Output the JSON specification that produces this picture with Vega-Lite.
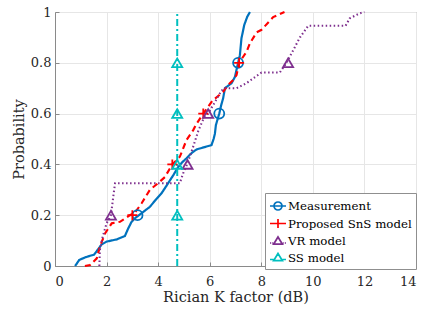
{
  "$schema": "https://vega.github.io/schema/vega-lite/v6.json",
  "width": 361,
  "height": 254,
  "autosize": {"type": "none"},
  "padding": {"left": 55, "top": 12, "right": 16, "bottom": 48},
  "background": "white",
  "config": {
    "view": {"stroke": "#8a8a8a", "strokeWidth": 1},
    "font": "DejaVu Serif",
    "axis": {
      "labelFont": "DejaVu Serif",
      "labelFontSize": 13,
      "labelColor": "#262626",
      "titleFont": "DejaVu Serif",
      "titleFontSize": 14.5,
      "titleFontWeight": "normal",
      "titleColor": "#262626",
      "domainColor": "#8a8a8a",
      "tickColor": "#8a8a8a",
      "gridColor": "#e6e6e6",
      "tickSize": -4,
      "grid": true
    },
    "legend": {"labelFont": "DejaVu Serif"}
  },
  "datasets": {
    "lines": [
      {"s": "Measurement", "i": 1, "x": 0.78, "y": 0},
      {"s": "Measurement", "i": 2, "x": 0.94, "y": 0.024},
      {"s": "Measurement", "i": 3, "x": 1.2, "y": 0.035},
      {"s": "Measurement", "i": 4, "x": 1.52, "y": 0.045},
      {"s": "Measurement", "i": 5, "x": 1.81, "y": 0.085},
      {"s": "Measurement", "i": 6, "x": 2.0, "y": 0.096},
      {"s": "Measurement", "i": 7, "x": 2.4, "y": 0.105},
      {"s": "Measurement", "i": 8, "x": 2.71, "y": 0.118},
      {"s": "Measurement", "i": 9, "x": 2.84, "y": 0.148},
      {"s": "Measurement", "i": 10, "x": 2.97, "y": 0.174},
      {"s": "Measurement", "i": 11, "x": 3.1, "y": 0.188},
      {"s": "Measurement", "i": 12, "x": 3.23, "y": 0.198},
      {"s": "Measurement", "i": 13, "x": 3.45, "y": 0.215},
      {"s": "Measurement", "i": 14, "x": 3.68, "y": 0.233},
      {"s": "Measurement", "i": 15, "x": 3.9, "y": 0.26},
      {"s": "Measurement", "i": 16, "x": 4.13, "y": 0.286},
      {"s": "Measurement", "i": 17, "x": 4.35, "y": 0.32},
      {"s": "Measurement", "i": 18, "x": 4.59, "y": 0.358},
      {"s": "Measurement", "i": 19, "x": 4.78, "y": 0.39},
      {"s": "Measurement", "i": 20, "x": 4.95, "y": 0.41},
      {"s": "Measurement", "i": 21, "x": 5.1, "y": 0.424},
      {"s": "Measurement", "i": 22, "x": 5.3, "y": 0.445},
      {"s": "Measurement", "i": 23, "x": 5.49, "y": 0.459},
      {"s": "Measurement", "i": 24, "x": 5.8, "y": 0.468},
      {"s": "Measurement", "i": 25, "x": 6.07, "y": 0.476},
      {"s": "Measurement", "i": 26, "x": 6.15, "y": 0.5},
      {"s": "Measurement", "i": 27, "x": 6.2, "y": 0.52},
      {"s": "Measurement", "i": 28, "x": 6.24, "y": 0.555},
      {"s": "Measurement", "i": 29, "x": 6.37, "y": 0.6},
      {"s": "Measurement", "i": 30, "x": 6.45, "y": 0.635},
      {"s": "Measurement", "i": 31, "x": 6.52, "y": 0.66},
      {"s": "Measurement", "i": 32, "x": 6.59, "y": 0.7},
      {"s": "Measurement", "i": 33, "x": 6.85, "y": 0.72},
      {"s": "Measurement", "i": 34, "x": 6.98, "y": 0.745},
      {"s": "Measurement", "i": 35, "x": 7.1, "y": 0.8},
      {"s": "Measurement", "i": 36, "x": 7.17, "y": 0.83},
      {"s": "Measurement", "i": 37, "x": 7.23, "y": 0.896},
      {"s": "Measurement", "i": 38, "x": 7.34, "y": 0.949},
      {"s": "Measurement", "i": 39, "x": 7.45, "y": 0.98},
      {"s": "Measurement", "i": 40, "x": 7.56, "y": 1.0},
      {"s": "Proposed SnS model", "i": 1, "x": 1.16, "y": 0},
      {"s": "Proposed SnS model", "i": 2, "x": 1.36, "y": 0.004},
      {"s": "Proposed SnS model", "i": 3, "x": 1.62, "y": 0.03},
      {"s": "Proposed SnS model", "i": 4, "x": 1.74, "y": 0.076},
      {"s": "Proposed SnS model", "i": 5, "x": 1.94, "y": 0.128},
      {"s": "Proposed SnS model", "i": 6, "x": 2.2, "y": 0.168},
      {"s": "Proposed SnS model", "i": 7, "x": 2.52, "y": 0.174},
      {"s": "Proposed SnS model", "i": 8, "x": 2.91, "y": 0.2},
      {"s": "Proposed SnS model", "i": 9, "x": 3.1, "y": 0.21},
      {"s": "Proposed SnS model", "i": 10, "x": 3.36, "y": 0.247},
      {"s": "Proposed SnS model", "i": 11, "x": 3.68, "y": 0.3},
      {"s": "Proposed SnS model", "i": 12, "x": 4.0, "y": 0.326},
      {"s": "Proposed SnS model", "i": 13, "x": 4.26, "y": 0.35},
      {"s": "Proposed SnS model", "i": 14, "x": 4.55, "y": 0.4},
      {"s": "Proposed SnS model", "i": 15, "x": 4.84, "y": 0.43},
      {"s": "Proposed SnS model", "i": 16, "x": 5.1, "y": 0.496},
      {"s": "Proposed SnS model", "i": 17, "x": 5.36, "y": 0.535},
      {"s": "Proposed SnS model", "i": 18, "x": 5.49, "y": 0.56},
      {"s": "Proposed SnS model", "i": 19, "x": 5.75, "y": 0.6},
      {"s": "Proposed SnS model", "i": 20, "x": 6.1, "y": 0.65},
      {"s": "Proposed SnS model", "i": 21, "x": 6.52, "y": 0.686},
      {"s": "Proposed SnS model", "i": 22, "x": 6.78, "y": 0.72},
      {"s": "Proposed SnS model", "i": 23, "x": 6.91, "y": 0.732},
      {"s": "Proposed SnS model", "i": 24, "x": 7.04, "y": 0.752},
      {"s": "Proposed SnS model", "i": 25, "x": 7.14, "y": 0.8},
      {"s": "Proposed SnS model", "i": 26, "x": 7.43, "y": 0.844},
      {"s": "Proposed SnS model", "i": 27, "x": 7.56, "y": 0.877},
      {"s": "Proposed SnS model", "i": 28, "x": 7.82, "y": 0.92},
      {"s": "Proposed SnS model", "i": 29, "x": 8.01, "y": 0.93},
      {"s": "Proposed SnS model", "i": 30, "x": 8.46, "y": 0.98},
      {"s": "Proposed SnS model", "i": 31, "x": 8.9, "y": 1.0},
      {"s": "VR model", "i": 1, "x": 1.72, "y": 0},
      {"s": "VR model", "i": 2, "x": 1.74, "y": 0.063},
      {"s": "VR model", "i": 3, "x": 1.85, "y": 0.115},
      {"s": "VR model", "i": 4, "x": 2.0, "y": 0.168},
      {"s": "VR model", "i": 5, "x": 2.17, "y": 0.2},
      {"s": "VR model", "i": 6, "x": 2.26, "y": 0.273},
      {"s": "VR model", "i": 7, "x": 2.33, "y": 0.326},
      {"s": "VR model", "i": 8, "x": 4.84, "y": 0.326},
      {"s": "VR model", "i": 9, "x": 4.97, "y": 0.365},
      {"s": "VR model", "i": 10, "x": 5.14, "y": 0.404},
      {"s": "VR model", "i": 11, "x": 5.36, "y": 0.47},
      {"s": "VR model", "i": 12, "x": 5.55, "y": 0.53},
      {"s": "VR model", "i": 13, "x": 5.75, "y": 0.578},
      {"s": "VR model", "i": 14, "x": 5.94, "y": 0.6},
      {"s": "VR model", "i": 15, "x": 6.2, "y": 0.645},
      {"s": "VR model", "i": 16, "x": 6.45, "y": 0.69},
      {"s": "VR model", "i": 17, "x": 6.59, "y": 0.7},
      {"s": "VR model", "i": 18, "x": 7.04, "y": 0.7},
      {"s": "VR model", "i": 19, "x": 7.43, "y": 0.72},
      {"s": "VR model", "i": 20, "x": 7.69, "y": 0.739},
      {"s": "VR model", "i": 21, "x": 8.01, "y": 0.762},
      {"s": "VR model", "i": 22, "x": 8.72, "y": 0.762},
      {"s": "VR model", "i": 23, "x": 8.98, "y": 0.8},
      {"s": "VR model", "i": 24, "x": 9.24, "y": 0.85},
      {"s": "VR model", "i": 25, "x": 9.5, "y": 0.9},
      {"s": "VR model", "i": 26, "x": 9.82, "y": 0.946},
      {"s": "VR model", "i": 27, "x": 11.27, "y": 0.946},
      {"s": "VR model", "i": 28, "x": 11.43, "y": 0.975},
      {"s": "VR model", "i": 29, "x": 11.82, "y": 0.995},
      {"s": "VR model", "i": 30, "x": 12.0, "y": 1.0},
      {"s": "SS model", "i": 1, "x": 4.74, "y": 0},
      {"s": "SS model", "i": 2, "x": 4.74, "y": 1.0}
    ],
    "markers": [
      {"s": "Measurement", "x": 3.2, "y": 0.2},
      {"s": "Measurement", "x": 6.37, "y": 0.6},
      {"s": "Measurement", "x": 7.1, "y": 0.8},
      {"s": "Proposed SnS model", "x": 3.0, "y": 0.2},
      {"s": "Proposed SnS model", "x": 4.55, "y": 0.4},
      {"s": "Proposed SnS model", "x": 5.75, "y": 0.6},
      {"s": "Proposed SnS model", "x": 7.14, "y": 0.8},
      {"s": "VR model", "x": 2.17, "y": 0.2},
      {"s": "VR model", "x": 5.14, "y": 0.4},
      {"s": "VR model", "x": 5.94, "y": 0.6},
      {"s": "VR model", "x": 9.04, "y": 0.8},
      {"s": "SS model", "x": 4.74, "y": 0.2},
      {"s": "SS model", "x": 4.74, "y": 0.4},
      {"s": "SS model", "x": 4.74, "y": 0.6},
      {"s": "SS model", "x": 4.74, "y": 0.8}
    ]
  },
  "layer": [
    {
      "data": {"name": "lines"},
      "mark": {"type": "line"},
      "encoding": {
        "x": {"field": "x", "type": "quantitative", "title": "Rician K factor (dB)",
              "scale": {"domain": [0, 14], "nice": false},
              "axis": {"values": [0, 2, 4, 6, 8, 10, 12, 14], "labelPadding": 13, "titlePadding": 2,
                       "labelFont": "DejaVu Serif", "titleFont": "DejaVu Serif"}},
        "y": {"field": "y", "type": "quantitative", "title": "Probability",
              "scale": {"domain": [0, 1], "nice": false},
              "axis": {"values": [0, 0.2, 0.4, 0.6, 0.8, 1], "format": "~g", "labelPadding": 8, "titlePadding": 4,
                       "labelFont": "DejaVu Serif", "titleFont": "DejaVu Serif"}},
        "color": {"field": "s", "type": "nominal", "legend": null,
                  "scale": {"domain": ["Measurement", "Proposed SnS model", "VR model", "SS model"],
                            "range": ["#0072BD", "#FF0000", "#7E2F8E", "#00BFBF"]}},
        "strokeDash": {"field": "s", "type": "nominal", "legend": null,
                       "scale": {"domain": ["Measurement", "Proposed SnS model", "VR model", "SS model"],
                                 "range": [[1, 0], [6, 4], [1.5, 2.5], [7, 3, 2, 3]]}},
        "strokeWidth": {"field": "s", "type": "nominal", "legend": null,
                        "scale": {"domain": ["Measurement", "Proposed SnS model", "VR model", "SS model"],
                                  "range": [2.2, 2, 1.8, 1.6]}},
        "order": {"field": "i", "type": "quantitative"}
      }
    },
    {
      "data": {"name": "markers"},
      "mark": {"type": "point", "filled": false, "size": 100, "strokeWidth": 1.8, "opacity": 1},
      "encoding": {
        "x": {"field": "x", "type": "quantitative", "title": "Rician K factor (dB)"},
        "y": {"field": "y", "type": "quantitative", "title": "Probability"},
        "color": {"field": "s", "type": "nominal", "legend": null},
        "shape": {"field": "s", "type": "nominal", "legend": null,
                  "scale": {"domain": ["Measurement", "Proposed SnS model", "VR model", "SS model"],
                            "range": ["circle", "M-1,0L1,0M0,-1L0,1", "triangle-up", "triangle-up"]}}
      }
    },
    {
      "data": {"name": "markers"},
      "mark": {"type": "point", "filled": false, "opacity": 0},
      "encoding": {
        "x": {"field": "x", "type": "quantitative", "title": "Rician K factor (dB)"},
        "y": {"field": "y", "type": "quantitative", "title": "Probability"},
        "color": {"field": "s", "type": "nominal",
                  "legend": {"orient": "none", "legendX": 210, "legendY": 181, "title": null,
                             "padding": 4, "strokeColor": "#8f8f8f", "fillColor": "white",
                             "labelFont": "DejaVu Serif", "labelFontSize": 11.8, "labelColor": "#000000",
                             "symbolSize": 256, "symbolStrokeWidth": 1.7, "symbolOpacity": 1,
                             "rowPadding": 0.5, "labelOffset": 1,
                             "encode": {"symbols": {"update": {"opacity": {"value": 1}}}}}},
        "shape": {"field": "s", "type": "nominal",
                  "legend": {"orient": "none", "legendX": 210, "legendY": 181, "title": null,
                             "padding": 4, "strokeColor": "#8f8f8f", "fillColor": "white",
                             "labelFont": "DejaVu Serif", "labelFontSize": 11.8, "labelColor": "#000000",
                             "symbolSize": 256, "symbolStrokeWidth": 1.7, "symbolOpacity": 1,
                             "rowPadding": 0.5, "labelOffset": 1,
                             "encode": {"symbols": {"update": {"opacity": {"value": 1}}}}},
                  "scale": {"domain": ["Measurement", "Proposed SnS model", "VR model", "SS model"],
                            "range": [
                              "M-1,0L1,0M-0.5,0A0.5,0.5 0 1,1 0.5,0A0.5,0.5 0 1,1 -0.5,0",
                              "M-1,0L1,0M0,-0.55L0,0.55",
                              "M-1,0.25L-0.85,0.25M-0.72,0.25L-0.6,0.25M0.6,0.25L0.72,0.25M0.85,0.25L1,0.25M0,-0.5L0.55,0.4L-0.55,0.4Z",
                              "M-1,0.25L-0.55,0.25M0.55,0.25L1,0.25M0,-0.5L0.55,0.4L-0.55,0.4Z"
                            ]}}
      }
    }
  ],
  "resolve": {"scale": {"shape": "independent"}, "legend": {"shape": "independent", "color": "independent"}}
}
